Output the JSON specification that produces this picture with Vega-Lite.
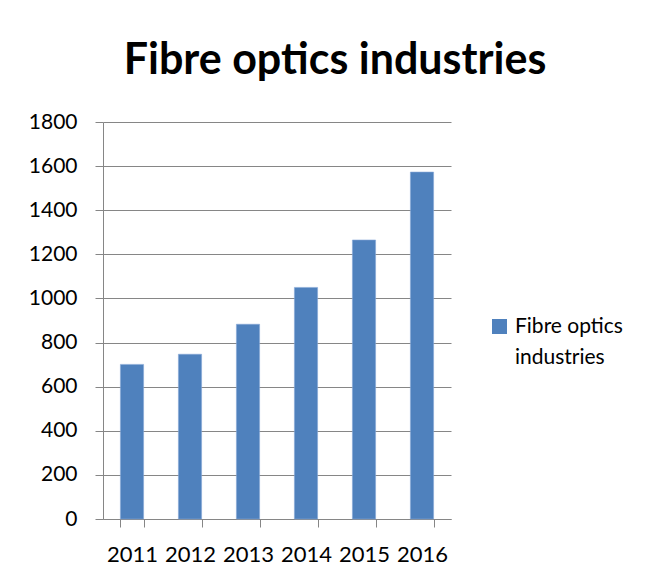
{
  "$schema": "https://vega.github.io/schema/vega-lite/v6.json",
  "width": 348,
  "height": 397,
  "autosize": "none",
  "padding": {"left": 103, "top": 122, "right": 207, "bottom": 61},
  "background": "white",
  "title": {
    "text": "Fibre optics industries",
    "font": "Lato",
    "fontSize": 43,
    "fontWeight": "bold",
    "color": "#000000",
    "anchor": "middle",
    "dx": 58,
    "baseline": "alphabetic",
    "offset": -6
  },
  "data": {
    "values": [
      {"year": "2011", "value": 701, "series": "Fibre optics industries"},
      {"year": "2012", "value": 747, "series": "Fibre optics industries"},
      {"year": "2013", "value": 883, "series": "Fibre optics industries"},
      {"year": "2014", "value": 1050, "series": "Fibre optics industries"},
      {"year": "2015", "value": 1265, "series": "Fibre optics industries"},
      {"year": "2016", "value": 1573, "series": "Fibre optics industries"}
    ]
  },
  "mark": {"type": "bar", "stroke": "#86A8D6", "strokeWidth": 0.6},
  "encoding": {
    "x": {
      "field": "year",
      "type": "ordinal",
      "scale": {"paddingInner": 0.6, "paddingOuter": 0.3},
      "axis": {
        "title": null,
        "labelAngle": 0,
        "tickBand": "extent",
        "tickSize": 8,
        "labelPadding": 17,
        "domainColor": "#868686",
        "tickColor": "#868686",
        "labelFont": "Lato",
        "labelFontSize": 22,
        "labelColor": "#000000"
      }
    },
    "y": {
      "field": "value",
      "type": "quantitative",
      "scale": {"domain": [0, 1800], "nice": false},
      "axis": {
        "title": null,
        "values": [0, 200, 400, 600, 800, 1000, 1200, 1400, 1600, 1800],
        "format": "d",
        "tickSize": 8,
        "labelPadding": 18,
        "domainColor": "#868686",
        "tickColor": "#868686",
        "gridColor": "#868686",
        "gridOpacity": 1,
        "labelFont": "Lato",
        "labelFontSize": 21,
        "labelColor": "#000000"
      }
    },
    "color": {
      "field": "series",
      "type": "nominal",
      "scale": {"range": ["#4F81BD"]},
      "legend": {
        "title": null,
        "orient": "none",
        "legendX": 386,
        "legendY": 194,
        "padding": 0,
        "symbolType": "square",
        "symbolSize": 225,
        "symbolStrokeWidth": 0,
        "symbolOpacity": 1,
        "labelFont": "Lato",
        "labelFontSize": 21,
        "labelColor": "#000000",
        "labelOffset": 5,
        "labelLimit": 300,
        "labelExpr": "['Fibre optics', 'industries']",
        "encode": {"labels": {"enter": {"lineHeight": {"value": 31}}, "update": {"lineHeight": {"value": 31}}}}
      }
    }
  },
  "config": {"view": {"stroke": null}, "style": {"guide-label": {"lineHeight": 31}}}
}
